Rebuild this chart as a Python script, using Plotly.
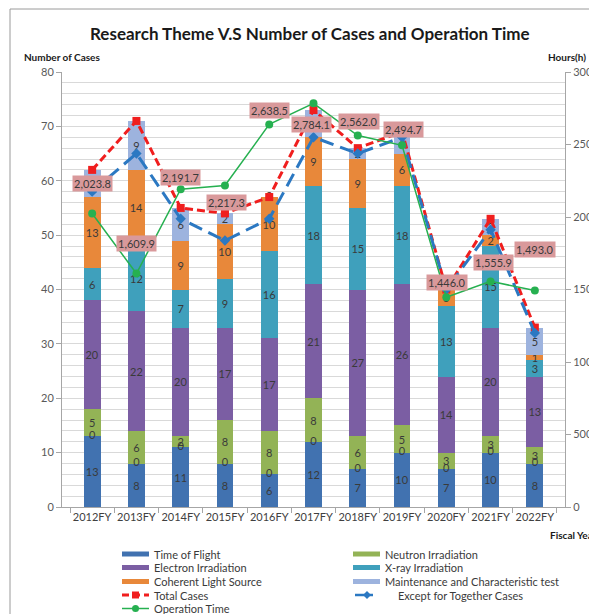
import plotly.graph_objects as go

# ---------------- data ----------------
years = ["2012FY", "2013FY", "2014FY", "2015FY", "2016FY", "2017FY",
         "2018FY", "2019FY", "2020FY", "2021FY", "2022FY"]
time_of_flight = [13, 8, 11, 8, 6, 12, 7, 10, 7, 10, 8]
neutron = [5, 6, 2, 8, 8, 8, 6, 5, 3, 3, 3]
electron = [20, 22, 20, 17, 17, 21, 27, 26, 14, 20, 13]
xray = [6, 12, 7, 9, 16, 18, 15, 18, 13, 15, 3]
coherent = [13, 14, 9, 10, 10, 9, 9, 6, 3, 2, 1]
maintenance = [5, 9, 6, 2, 0, 5, 2, 4, 0, 3, 5]
total_cases = [62, 71, 55, 54, 57, 73, 66, 69, 40, 53, 33]
except_together = [58, 65, 53, 49, 53, 68, 65, 68, 40, 51, 32]
operation_time = [2023.8, 1609.9, 2191.7, 2217.3, 2638.5, 2784.1,
                  2562.0, 2494.7, 1446.0, 1555.9, 1493.0]

# label offsets (pixels) for the operation-time data labels
label_dx = [0, 0, 0, 2, 0, -2, 1, 1, 1, 3, 0]
label_dy = [30, 30, 12, -17, 14, -21, 14, 16, 15, 19, 41]

# ---------------- style ----------------
FONT = "Lato, 'Open Sans', sans-serif"
TXT = "#3a3a3a"
C_TOF = "#4172B0"
C_NEU = "#93B356"
C_ELE = "#7B5EA3"
C_XRAY = "#3FA0BC"
C_COH = "#E8883A"
C_MNT = "#9DB3DE"
C_RED = "#F01E1E"
C_BLUE = "#2B78C2"
C_GREEN = "#26B050"
C_LABEL = "#D9999B"

OFF = 8                      # page body margin
PW, PH = 597, 614            # page size
W, H = PW - OFF, PH - OFF    # figure size
L, R, T, B = 62, 565, 72, 507  # plot area in page pixels


def px_x(px):
    return (px - L) / (R - L)


def px_y(py):
    return (B - py) / (B - T)


fig = go.Figure()

bar_series = [
    ("Time of Flight", time_of_flight, C_TOF),
    ("Neutron Irradiation", neutron, C_NEU),
    ("Electron Irradiation", electron, C_ELE),
    ("X-ray Irradiation", xray, C_XRAY),
    ("Coherent Light Source", coherent, C_COH),
    ("Maintenance and Characteristic test", maintenance, C_MNT),
]
for name, vals, col in bar_series:
    fig.add_trace(go.Bar(
        x=years, y=vals, name=name, marker=dict(color=col, line=dict(width=0)),
        text=[str(v) if v else "" for v in vals], textposition="inside",
        insidetextanchor="middle", textangle=0,
        textfont=dict(size=11, color=TXT, family=FONT),
        showlegend=False, hoverinfo="skip",
    ))

# zero-valued labels ("0") drawn at the stack boundaries
zero_x = list(years)
zero_y = list(time_of_flight)
for i, v in enumerate(maintenance):
    if v == 0:
        zero_x.append(years[i])
        zero_y.append(total_cases[i])
fig.add_trace(go.Scatter(
    x=zero_x, y=zero_y, mode="text", text=["0"] * len(zero_x),
    textposition="middle center", textfont=dict(size=11, color=TXT, family=FONT),
    showlegend=False, hoverinfo="skip",
))

fig.add_trace(go.Scatter(
    x=years, y=total_cases, name="Total Cases", mode="lines+markers",
    line=dict(color=C_RED, width=3, dash="8px,4px"),
    marker=dict(symbol="square", size=8, color=C_RED),
    showlegend=False,
))
fig.add_trace(go.Scatter(
    x=years, y=except_together, name="Except for Together Cases", mode="lines+markers",
    line=dict(color=C_BLUE, width=3, dash="14px,7px"),
    marker=dict(symbol="diamond", size=8, color=C_BLUE),
    showlegend=False,
))
fig.add_trace(go.Scatter(
    x=years, y=operation_time, name="Operation Time", mode="lines+markers",
    line=dict(color=C_GREEN, width=1.5),
    marker=dict(symbol="circle", size=8, color=C_GREEN),
    yaxis="y2", showlegend=False,
))

annotations = []
for i, v in enumerate(operation_time):
    annotations.append(dict(
        x=years[i], y=v, xref="x", yref="y2", text=f"{v:,.1f}",
        showarrow=False, xshift=label_dx[i], yshift=label_dy[i],
        bgcolor=C_LABEL, borderpad=1,
        font=dict(size=11, color=TXT, family=FONT),
    ))

# title and axis titles
annotations.append(dict(x=px_x(310), y=px_y(33), xref="paper", yref="paper",
                        text="<b>Research Theme V.S Number of Cases and Operation Time</b>",
                        showarrow=False, xanchor="center", yanchor="middle",
                        font=dict(size=17, color="#1a1a1a", family=FONT)))
annotations.append(dict(x=px_x(22), y=px_y(57), xref="paper", yref="paper",
                        text="<b>Number of Cases</b>", showarrow=False,
                        xanchor="left", yanchor="middle",
                        font=dict(size=10, color="#1a1a1a", family=FONT)))
annotations.append(dict(x=px_x(588), y=px_y(57), xref="paper", yref="paper",
                        text="<b>Hours(h)</b>", showarrow=False,
                        xanchor="right", yanchor="middle",
                        font=dict(size=10, color="#1a1a1a", family=FONT)))
annotations.append(dict(x=px_x(548), y=px_y(535), xref="paper", yref="paper",
                        text="<b>Fiscal Year</b>", showarrow=False,
                        xanchor="left", yanchor="middle",
                        font=dict(size=10, color="#1a1a1a", family=FONT)))

# custom legend
shapes = []
rows = [554, 567.5, 581.5, 595, 608.5]
legend_items = [
    ("Time of Flight", "bar", C_TOF, 0, 0),
    ("Neutron Irradiation", "bar", C_NEU, 1, 0),
    ("Electron Irradiation", "bar", C_ELE, 0, 1),
    ("X-ray Irradiation", "bar", C_XRAY, 1, 1),
    ("Coherent Light Source", "bar", C_COH, 0, 2),
    ("Maintenance and Characteristic test", "bar", C_MNT, 1, 2),
    ("Total Cases", "red", C_RED, 0, 3),
    ("Except for Together Cases", "blue", C_BLUE, 1, 3),
    ("Operation Time", "green", C_GREEN, 0, 4),
]
col_x = [122, 353]
for name, kind, col, c, r in legend_items:
    x0 = col_x[c]
    yc = rows[r]
    tx = x0 + 30
    if kind == "bar":
        shapes.append(dict(type="rect", xref="paper", yref="paper",
                           x0=px_x(x0), x1=px_x(x0 + 27), y0=px_y(yc + 2.5), y1=px_y(yc - 2.5),
                           fillcolor=col, line=dict(width=0)))
    elif kind == "red":
        shapes.append(dict(type="line", xref="paper", yref="paper",
                           x0=px_x(x0), x1=px_x(x0 + 27), y0=px_y(yc), y1=px_y(yc),
                           line=dict(color=col, width=3, dash="7px,4px")))
        shapes.append(dict(type="rect", xref="paper", yref="paper",
                           x0=px_x(x0 + 10), x1=px_x(x0 + 17), y0=px_y(yc + 3.5), y1=px_y(yc - 3.5),
                           fillcolor=col, line=dict(width=0)))
    elif kind == "blue":
        shapes.append(dict(type="line", xref="paper", yref="paper",
                           x0=px_x(x0 + 2), x1=px_x(x0 + 20), y0=px_y(yc), y1=px_y(yc),
                           line=dict(color=col, width=2.5)))
        path = (f"M {px_x(x0 + 10)} {px_y(yc)} L {px_x(x0 + 14)} {px_y(yc - 4)} "
                f"L {px_x(x0 + 18)} {px_y(yc)} L {px_x(x0 + 14)} {px_y(yc + 4)} Z")
        shapes.append(dict(type="path", xref="paper", yref="paper", path=path,
                           fillcolor=col, line=dict(width=0)))
        tx = x0 + 43
    else:
        shapes.append(dict(type="line", xref="paper", yref="paper",
                           x0=px_x(x0), x1=px_x(x0 + 27), y0=px_y(yc), y1=px_y(yc),
                           line=dict(color=col, width=1.5)))
        shapes.append(dict(type="circle", xref="paper", yref="paper",
                           x0=px_x(x0 + 10), x1=px_x(x0 + 17), y0=px_y(yc + 3.5), y1=px_y(yc - 3.5),
                           fillcolor=col, line=dict(width=0)))
    annotations.append(dict(x=px_x(tx), y=px_y(yc), xref="paper", yref="paper",
                            text=name, showarrow=False, xanchor="left", yanchor="middle",
                            font=dict(size=11, color=TXT, family=FONT)))

# chart border
shapes.append(dict(type="rect", xref="paper", yref="paper",
                   x0=px_x(10), x1=px_x(610), y0=px_y(9), y1=px_y(625),
                   line=dict(color="#9a9a9a", width=1), fillcolor="rgba(0,0,0,0)",
                   layer="below"))

fig.update_layout(
    width=W, height=H, autosize=False,
    margin=dict(l=L - OFF, r=W - (R - OFF), t=T - OFF, b=H - (B - OFF), pad=0,
                autoexpand=False),
    paper_bgcolor="white", plot_bgcolor="white",
    barmode="stack", bargap=0.62,
    font=dict(family=FONT, size=11, color=TXT),
    showlegend=False,
    uniformtext=dict(minsize=11, mode="show"),
    xaxis=dict(type="category", showline=True, linecolor="#A6A6A6", linewidth=1,
               ticks="outside", tickson="boundaries", ticklen=5, tickcolor="#A6A6A6",
               tickangle=0, automargin=False,
               tickfont=dict(size=11, color="#404040", family=FONT), showgrid=False),
    yaxis=dict(range=[0, 80], dtick=10, showline=True, linecolor="#A6A6A6",
               ticks="outside", ticklen=5, tickcolor="#A6A6A6", automargin=False,
               tickfont=dict(size=11, color="#595959", family=FONT),
               gridcolor="#D9D9D9", gridwidth=1, zeroline=False,
               minor=dict(dtick=2, showgrid=True, gridcolor="#D9D9D9", gridwidth=1)),
    yaxis2=dict(range=[0, 3000], dtick=500, overlaying="y", side="right",
                showline=True, linecolor="#A6A6A6", ticks="outside", ticklen=5,
                tickcolor="#A6A6A6", showgrid=False, zeroline=False,
                tickformat="d", automargin=False,
                tickfont=dict(size=11, color="#595959", family=FONT)),
    annotations=annotations,
    shapes=shapes,
)

fig.write_html("out.html")
